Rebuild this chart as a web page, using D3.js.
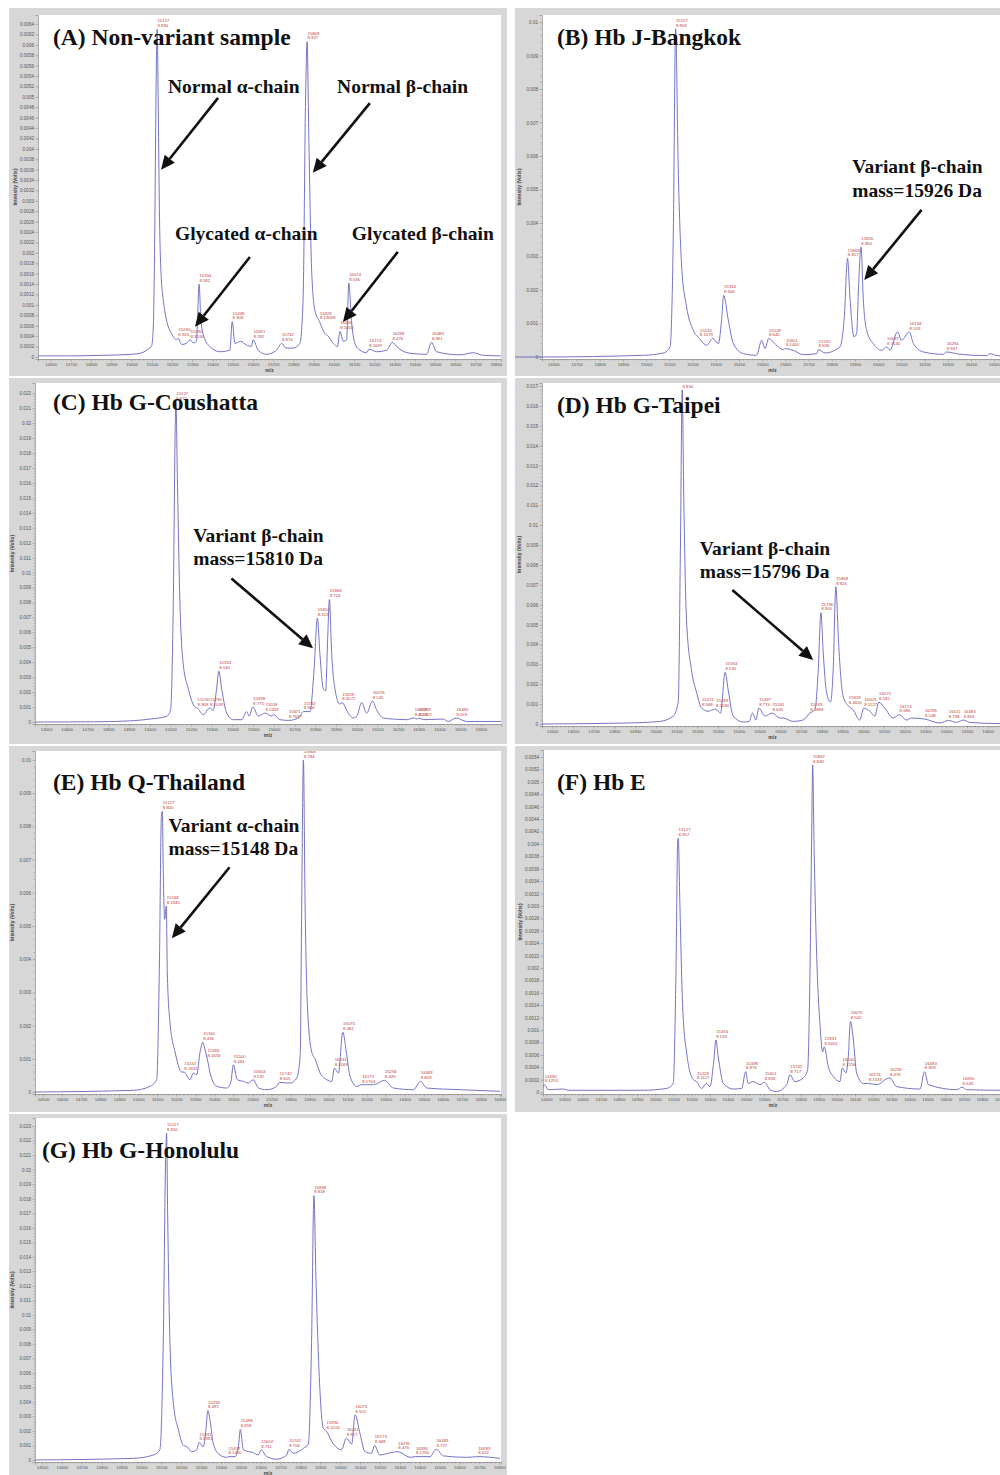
<!DOCTYPE html>
<html>
<head>
<meta charset="utf-8">
<script src="https://cdn.jsdelivr.net/npm/d3@7"></script>
<style>
  html, body { margin: 0; padding: 0; background: #fff; }
  svg { display: block; }
</style>
</head>
<body>
<svg id="fig" width="1000" height="1475"></svg>
<script>
// ---- spectra: [m/z, intensity (Volts)] ----
const traceA = [[14540,0.00002],[14700,0.00002],[14850,0.00003],[15000,0.00005],[15050,0.00008],[15083,0.00015],[15100,0.00022],[15108,0.0006],[15115,0.0024],[15121,0.005],[15127,0.0063],[15132,0.0049],[15138,0.0028],[15146,0.0016],[15157,0.0011],[15173,0.00071],[15198,0.00045],[15222,0.00033],[15230,0.00036],[15248,0.00024],[15272,0.00026],[15290,0.00033],[15305,0.00027],[15321,0.0003],[15328,0.0009],[15334,0.0014],[15343,0.00071],[15358,0.00039],[15387,0.0002],[15437,0.0001],[15486,0.00013],[15498,0.00068],[15511,0.00026],[15525,0.00028],[15539,0.0003],[15568,0.00023],[15593,0.0002],[15601,0.00033],[15626,0.00013],[15667,0.00005],[15717,0.00013],[15742,0.00026],[15763,0.00017],[15799,0.00017],[15832,0.00026],[15848,0.0011],[15860,0.0049],[15868,0.00606],[15876,0.0043],[15890,0.0017],[15906,0.0009],[15929,0.00068],[15956,0.00045],[15972,0.0004],[15997,0.00026],[16018,0.0002],[16030,0.00049],[16047,0.0003],[16063,0.00033],[16074,0.00142],[16087,0.0007],[16104,0.00026],[16129,0.00013],[16162,0.00008],[16174,0.00015],[16211,0.0001],[16261,0.00013],[16288,0.00028],[16318,0.00017],[16376,0.00007],[16458,0.00005],[16483,0.00028],[16507,0.0001],[16623,0.00004],[16689,0.00008],[16738,0.00003],[16825,0.00002]];
const traceB = [[14380,0],[14549,0],[14988,0.00005],[15074,0.00012],[15103,0.0003],[15117,0.0037],[15127,0.0098],[15138,0.0057],[15153,0.0027],[15174,0.0015],[15203,0.0008],[15230,0.00055],[15261,0.00035],[15287,0.00055],[15311,0.0004],[15325,0.0011],[15334,0.00184],[15354,0.0011],[15376,0.0004],[15419,0.0001],[15476,0.00005],[15498,0.0005],[15512,0.00025],[15528,0.00055],[15562,0.00035],[15591,0.00022],[15601,0.00025],[15634,0.0002],[15677,0.00007],[15735,0.0001],[15742,0.00022],[15771,0.00012],[15835,0.0003],[15854,0.0012],[15868,0.00294],[15879,0.0017],[15896,0.0006],[15907,0.0007],[15916,0.0022],[15926,0.00328],[15936,0.0017],[15950,0.0008],[15979,0.0004],[16015,0.0002],[16037,0.0003],[16051,0.0002],[16083,0.00075],[16101,0.0005],[16134,0.00075],[16152,0.0004],[16195,0.00015],[16281,0.00008],[16294,0.00015],[16353,0.00008],[16468,0.00004],[16482,0.0001],[16511,0.00004],[16600,0.00003],[16700,0.00005],[16790,0.00002]];
const traceC = [[14446,0],[14760,0.00002],[14921,0.00009],[15001,0.0002],[15082,0.00038],[15101,0.00082],[15114,0.008],[15124,0.0202],[15127,0.0214],[15133,0.0169],[15146,0.008],[15162,0.0039],[15187,0.0022],[15219,0.001],[15230,0.00094],[15259,0.0005],[15290,0.00094],[15307,0.00078],[15323,0.0022],[15334,0.0034],[15348,0.0022],[15372,0.0006],[15404,0.00016],[15444,0.00016],[15468,0.0007],[15481,0.0004],[15498,0.001],[15525,0.0004],[15558,0.0006],[15589,0.0004],[15600,0.0005],[15629,0.00016],[15671,0.00011],[15718,0.00027],[15743,0.0007],[15774,0.0007],[15794,0.0035],[15810,0.00695],[15822,0.0046],[15839,0.0022],[15850,0.0021],[15860,0.0057],[15868,0.0082],[15879,0.0046],[15895,0.0022],[15919,0.0012],[15929,0.0013],[15959,0.0006],[15983,0.00027],[16000,0.00038],[16024,0.0013],[16048,0.0006],[16076,0.0014],[16096,0.00082],[16128,0.00027],[16177,0.0002],[16241,0.00016],[16279,0.00027],[16290,0.0002],[16298,0.00025],[16330,0.00016],[16418,0.0002],[16442,0.00004],[16480,0.00027],[16531,0.00004],[16697,0.00004]];
const traceD = [[14449,0],[14859,0.00005],[15019,0.00013],[15084,0.0004],[15108,0.0011],[15119,0.0094],[15127,0.0168],[15135,0.0111],[15148,0.0052],[15172,0.0027],[15196,0.0016],[15221,0.0008],[15252,0.00064],[15276,0.00072],[15289,0.00075],[15312,0.00055],[15334,0.0026],[15349,0.0017],[15373,0.0004],[15421,0.0001],[15450,0.00013],[15466,0.00055],[15482,0.0002],[15497,0.0008],[15526,0.0004],[15561,0.00055],[15598,0.0003],[15614,0.0003],[15662,0.00013],[15710,0.0002],[15743,0.00055],[15767,0.00072],[15783,0.0027],[15796,0.0056],[15807,0.0036],[15823,0.0016],[15842,0.0011],[15855,0.0027],[15868,0.0069],[15881,0.0041],[15903,0.0014],[15929,0.0009],[15951,0.00072],[15983,0.0002],[16003,0.0008],[16032,0.00064],[16056,0.0004],[16075,0.0011],[16104,0.0008],[16144,0.0003],[16174,0.00047],[16208,0.0002],[16233,0.0003],[16296,0.00025],[16369,0.00005],[16411,0.00018],[16449,0.00008],[16483,0.0002],[16514,0.00008],[16659,0.00002],[16800,0.00003],[16940,0.00002]];
const traceE = [[14458,0],[14975,0.00005],[15062,0.00017],[15097,0.00037],[15111,0.0036],[15122,0.0083],[15127,0.00845],[15132,0.0066],[15139,0.0052],[15148,0.0056],[15153,0.0036],[15167,0.0021],[15194,0.0012],[15229,0.0006],[15241,0.0006],[15272,0.00037],[15290,0.00057],[15307,0.00052],[15325,0.0012],[15340,0.0015],[15350,0.0013],[15363,0.001],[15378,0.00057],[15413,0.00017],[15465,0.00012],[15486,0.00027],[15500,0.00082],[15521,0.00037],[15553,0.00032],[15579,0.00027],[15604,0.00037],[15632,0.00012],[15675,0.00007],[15728,0.00017],[15742,0.00029],[15798,0.00027],[15833,0.00042],[15851,0.0011],[15859,0.0056],[15868,0.01],[15877,0.0056],[15889,0.0026],[15912,0.0012],[15929,0.001],[15956,0.00057],[15991,0.00037],[16017,0.00032],[16031,0.00072],[16052,0.00057],[16075,0.0018],[16096,0.0011],[16113,0.00047],[16148,0.00017],[16175,0.00022],[16236,0.00022],[16294,0.00035],[16341,0.00012],[16446,0.00007],[16483,0.00032],[16516,0.00012],[16691,0.00007],[16902,0.00002]];
const traceF = [[14374,0.00001],[14390,0.00012],[14411,0.00004],[14494,0.00005],[14521,0.00003],[14934,0.00003],[15063,0.00006],[15099,0.00014],[15114,0.0019],[15124,0.00406],[15127,0.00409],[15136,0.003],[15151,0.00138],[15173,0.00063],[15210,0.0002],[15228,0.00017],[15255,0.00006],[15283,0.00014],[15301,0.00009],[15323,0.00052],[15334,0.00084],[15347,0.00057],[15375,0.00014],[15430,0.00005],[15476,0.00006],[15498,0.00033],[15512,0.00014],[15540,0.00017],[15577,0.00012],[15601,0.00016],[15632,0.00004],[15668,0.00001],[15724,0.00012],[15742,0.00028],[15769,0.00017],[15815,0.00023],[15839,0.00036],[15852,0.0019],[15861,0.00406],[15867,0.00527],[15874,0.00406],[15889,0.0022],[15907,0.0011],[15922,0.00065],[15931,0.00073],[15953,0.00041],[15981,0.00025],[16017,0.00017],[16030,0.00039],[16050,0.00031],[16063,0.00057],[16075,0.00114],[16091,0.00084],[16109,0.00031],[16146,0.00014],[16174,0.00014],[16219,0.00012],[16291,0.00023],[16329,0.00009],[16458,0.00005],[16483,0.00033],[16504,0.00012],[16660,0.00004],[16690,0.00008],[16715,0.00004],[16898,0.00003],[17050,0.00003]];
const traceG = [[14465,0],[14959,0.00011],[15060,0.00034],[15093,0.0007],[15110,0.008],[15122,0.0207],[15127,0.0225],[15132,0.0172],[15144,0.008],[15161,0.0039],[15186,0.0021],[15211,0.001],[15231,0.0009],[15253,0.00057],[15278,0.0007],[15291,0.0012],[15311,0.0009],[15325,0.0021],[15334,0.0034],[15348,0.0025],[15362,0.0011],[15395,0.00034],[15429,0.00018],[15437,0.00023],[15471,0.00023],[15488,0.0009],[15498,0.0021],[15513,0.0007],[15563,0.0005],[15588,0.00034],[15602,0.0007],[15630,0.00023],[15680,0.00005],[15731,0.00034],[15742,0.00073],[15764,0.00046],[15815,0.0008],[15840,0.0011],[15856,0.008],[15868,0.0182],[15878,0.0126],[15895,0.0057],[15915,0.0022],[15930,0.002],[15966,0.0011],[16007,0.0007],[16031,0.0015],[16058,0.0011],[16075,0.0031],[16100,0.0018],[16125,0.00057],[16158,0.00046],[16173,0.001],[16200,0.00034],[16242,0.00046],[16291,0.00057],[16351,0.00018],[16380,0.00023],[16452,0.00023],[16483,0.00073],[16519,0.00028],[16636,0.00018],[16693,0.00023],[16804,0.00011]];

// ---- peak labels: [m/z, intensity, second line] ----
const peaksA = [[15127,0.0063,"8.890"],[15230,0.00036,"8.920"],[15290,0.00033,"8.3136"],[15334,0.0014,"8.582"],[15498,0.00068,"8.908"],[15601,0.00033,"8.782"],[15742,0.00026,"8.874"],[15868,0.00606,"8.927"],[15929,0.00068,"8.13668"],[16030,0.00049,"8.5450"],[16074,0.00142,"8.536"],[16174,0.00015,"8.1697"],[16288,0.00028,"8.476"],[16483,0.00028,"8.961"]];
const peaksB = [[15127,0.0098,"8.863"],[15230,0.00055,"8.1079"],[15334,0.00184,"8.306"],[15528,0.00055,"8.640"],[15601,0.00025,"8.1440"],[15742,0.00022,"8.636"],[15868,0.00294,"8.817"],[15926,0.00328,"8.865"],[16037,0.0003,"8.7140"],[16134,0.00075,"8.533"],[16294,0.00015,"8.947"]];
const peaksC = [[15127,0.0214,"8.872"],[15230,0.00094,"8.968"],[15290,0.00094,"8.1049"],[15334,0.0034,"8.530"],[15498,0.001,"8.775"],[15558,0.0006,"8.2433"],[15671,0.00011,"8.7697"],[15743,0.0007,"8.906"],[15810,0.00695,"8.321"],[15868,0.0082,"8.724"],[15929,0.0013,"8.4572"],[16076,0.0014,"8.545"],[16279,0.00027,"8.4271"],[16298,0.00025,"8.1407"],[16480,0.00027,"8.059"]];
const peaksD = [[15127,0.0168,"8.834"],[15221,0.0008,"8.948"],[15289,0.00075,"8.2090"],[15334,0.0026,"8.530"],[15497,0.0008,"8.774"],[15561,0.00055,"8.632"],[15743,0.00055,"8.1889"],[15796,0.0056,"8.900"],[15868,0.0069,"8.824"],[15929,0.0009,"8.4600"],[16003,0.0008,"8.1127"],[16075,0.0011,"8.545"],[16174,0.00047,"8.686"],[16296,0.00025,"8.548"],[16411,0.00018,"8.798"],[16483,0.0002,"8.863"]];
const peaksE = [[15127,0.00845,"8.800"],[15148,0.0056,"8.1945"],[15241,0.0006,"8.1941"],[15340,0.0015,"8.436"],[15363,0.001,"8.1656"],[15500,0.00082,"8.184"],[15604,0.00037,"8.537"],[15742,0.00029,"8.605"],[15868,0.01,"8.784"],[16031,0.00072,"8.1169"],[16075,0.0018,"8.482"],[16175,0.00022,"8.1764"],[16294,0.00035,"8.449"],[16483,0.00032,"8.809"]];
const peaksF = [[14390,0.00012,"8.1253"],[15127,0.00409,"8.857"],[15228,0.00017,"8.1117"],[15334,0.00084,"8.533"],[15498,0.00033,"8.874"],[15601,0.00016,"8.858"],[15742,0.00028,"8.717"],[15867,0.00527,"8.849"],[15931,0.00073,"8.6401"],[16030,0.00039,"8.1256"],[16075,0.00114,"8.502"],[16174,0.00014,"8.1533"],[16291,0.00023,"8.476"],[16483,0.00033,"8.859"],[16690,0.00008,"8.649"]];
const peaksG = [[15127,0.0225,"8.850"],[15291,0.0012,"8.2991"],[15334,0.0034,"8.491"],[15437,0.00023,"8.1350"],[15498,0.0021,"8.859"],[15602,0.0007,"8.711"],[15742,0.00073,"8.706"],[15868,0.0182,"8.818"],[15930,0.002,"8.5224"],[16031,0.0015,"8.917"],[16075,0.0031,"8.502"],[16173,0.001,"8.688"],[16291,0.00057,"8.476"],[16380,0.00023,"8.1290"],[16483,0.00073,"8.727"],[16693,0.00023,"8.632"]];

// ---- annotations, anchored in data units ----
const notesA = [
  { lines: ["Normal α-chain"], at: [15180, 0.00507], from: [15428, 0.00498], to: [15146, 0.0036] },
  { lines: ["Normal β-chain"], at: [16016, 0.00507], from: [16178, 0.00488], to: [15896, 0.00354] },
  { lines: ["Glycated α-chain"], at: [15215, 0.00225], from: [15585, 0.00192], to: [15314, 0.00058] },
  { lines: ["Glycated β-chain"], at: [16089, 0.00225], from: [16316, 0.00202], to: [16045, 0.00067] }
];
const notesB = [{ lines: ["Variant β-chain", "mass=15926 Da"], at: [15888, 0.00548], from: [16187, 0.00439], to: [15940, 0.0023] }];
const notesC = [{ lines: ["Variant β-chain", "mass=15810 Da"], at: [15210, 0.01206], from: [15395, 0.00961], to: [15789, 0.00493] }];
const notesD = [{ lines: ["Variant β-chain", "mass=15796 Da"], at: [15212, 0.0085], from: [15369, 0.00674], to: [15759, 0.00322] }];
const notesE = [{ lines: ["Variant α-chain", "mass=15148 Da"], at: [15159, 0.00784], from: [15480, 0.00677], to: [15177, 0.00463] }];

const titles = ["(A) Non-variant sample", "(B) Hb J-Bangkok", "(C) Hb G-Coushatta", "(D) Hb G-Taipei",
                "(E) Hb Q-Thailand", "(F) Hb E", "(G) Hb G-Honolulu"];
// y tick labels: highest labelled value and step
const yTickTop  = [0.0064, 0.01, 0.022, 0.017, 0.01, 0.0054, 0.023];
const yTickStep = [0.0002, 0.001, 0.001, 0.001, 0.001, 0.0002, 0.001];
const xTickStep = 100;

// ---- layout ----
const panels = [
  { frame: [9, 8, 498, 368],    plot: [38, 15, 501, 359],     x: [14538, 16826], y: [-0.00004, 0.006573], t: [15, 30], trace: traceA, peaks: peaksA, notes: notesA, lead: false },
  { frame: [515, 8, 500, 368],  plot: [542, 15, 1003, 359],   x: [14551, 16538], y: [-0.00006, 0.01021],  t: [15, 30], trace: traceB, peaks: peaksB, notes: notesB, lead: true },
  { frame: [9, 378, 498, 366],  plot: [35, 383, 501, 724],    x: [14446, 16697], y: [-0.00013, 0.02268],  t: [18, 27], trace: traceC, peaks: peaksC, notes: notesC, lead: false },
  { frame: [515, 378, 500, 366],plot: [542, 383, 1003, 726],  x: [14451, 16674], y: [-0.0001, 0.01715],   t: [15, 30], trace: traceD, peaks: peaksD, notes: notesD, lead: false },
  { frame: [9, 746, 498, 366],  plot: [35, 751, 501, 1094],   x: [14458, 16906], y: [-0.00006, 0.01027],  t: [18, 39], trace: traceE, peaks: peaksE, notes: notesE, lead: false },
  { frame: [515, 746, 500, 366],plot: [543, 750, 1003, 1094], x: [14382, 16915], y: [-0.00003, 0.005513], t: [14, 40], trace: traceF, peaks: peaksF, notes: [], lead: false },
  { frame: [9, 1114, 498, 370], plot: [35, 1118, 501, 1462],  x: [14465, 16809], y: [-0.00014, 0.02355],  t: [7, 40],  trace: traceG, peaks: peaksG, notes: [], lead: false }
];

const svg = d3.select("#fig");
const fmt = v => String(+v.toFixed(6));
const defs = svg.append("defs");

function arrow(g, x1, y1, x2, y2) {
  const ang = Math.atan2(y2 - y1, x2 - x1), L = 14, W = 6.5;
  const bx = x2 - L * Math.cos(ang), by = y2 - L * Math.sin(ang);
  const nx = -Math.sin(ang), ny = Math.cos(ang);
  g.append("line")
    .attr("x1", x1).attr("y1", y1).attr("x2", bx).attr("y2", by)
    .attr("stroke", "#111").attr("stroke-width", 2.6);
  g.append("path")
    .attr("d", `M${x2},${y2}L${bx + nx * W},${by + ny * W}L${bx - nx * W},${by - ny * W}Z`)
    .attr("fill", "#111");
}

panels.forEach((p, i) => {
  const g = svg.append("g");
  const [fx, fy, fw, fh] = p.frame;
  const [l, t, r, b] = p.plot;

  g.append("rect").attr("x", fx).attr("y", fy).attr("width", fw).attr("height", fh).attr("fill", "#d7d7d7");
  g.append("rect").attr("x", l).attr("y", t).attr("width", r - l).attr("height", b - t).attr("fill", "#fff");

  const x = d3.scaleLinear().domain(p.x).range([l, r]);
  const y = d3.scaleLinear().domain(p.y).range([b, t]);

  // clip to the plot; panel B's trace starts out in the grey margin
  const cx = p.lead ? fx : l;
  defs.append("clipPath").attr("id", "clip" + i)
    .append("rect").attr("x", cx).attr("y", t).attr("width", r - cx).attr("height", b - t);
  defs.append("clipPath").attr("id", "lab" + i)
    .append("rect").attr("x", l).attr("y", t).attr("width", r - l).attr("height", b - t);

  // y axis
  const nY = Math.round(yTickTop[i] / yTickStep[i]);
  const yTicks = d3.range(nY + 1).map(k => +(k * yTickStep[i]).toFixed(6));
  const ya = g.append("g").attr("transform", `translate(${l},0)`)
    .call(d3.axisLeft(y).tickValues(yTicks).tickFormat(fmt).tickSize(2.5).tickPadding(1.5));
  if (yTickStep[i] >= 0.001) {
    const minor = d3.range(nY * 5 + 1).map(k => k * yTickStep[i] / 5).filter((v, k) => k % 5);
    g.selectAll(null).data(minor).join("line")
      .attr("x1", l - 1.5).attr("x2", l).attr("y1", d => y(d)).attr("y2", d => y(d))
      .attr("stroke", "#888").attr("stroke-width", 0.5);
  }

  // x axis
  const xTicks = d3.range(Math.ceil(p.x[0] / xTickStep) * xTickStep, p.x[1] + 1, xTickStep);
  const xa = g.append("g").attr("transform", `translate(0,${b})`)
    .call(d3.axisBottom(x).tickValues(xTicks).tickFormat(d3.format("d")).tickSize(2.5).tickPadding(1.5));
  const xMinor = d3.range(Math.ceil(p.x[0] / 20) * 20, p.x[1], 20).filter(v => v % 100);
  g.selectAll(null).data(xMinor).join("line")
    .attr("x1", d => x(d)).attr("x2", d => x(d)).attr("y1", b).attr("y2", b + 1.5)
    .attr("stroke", "#888").attr("stroke-width", 0.5);

  [ya, xa].forEach(a => {
    a.select(".domain").attr("stroke", "#8a8a8a").attr("stroke-width", 0.7);
    a.selectAll(".tick line").attr("stroke", "#8a8a8a").attr("stroke-width", 0.6);
    a.selectAll(".tick text").attr("fill", "#555").attr("font-family", "Liberation Sans, Arial, sans-serif");
  });
  ya.selectAll(".tick text").attr("font-size", 4.6);
  xa.selectAll(".tick text").attr("font-size", 4.2);

  g.append("text")
    .attr("transform", `translate(${l - 21},${(t + b) / 2}) rotate(-90)`)
    .attr("text-anchor", "middle").attr("font-family", "Liberation Sans, Arial, sans-serif")
    .attr("font-size", 5).attr("font-weight", "bold").attr("fill", "#444")
    .text("Intensity (Volts)");
  g.append("text")
    .attr("x", (l + r) / 2).attr("y", b + 13)
    .attr("text-anchor", "middle").attr("font-family", "Liberation Sans, Arial, sans-serif")
    .attr("font-size", 5).attr("font-weight", "bold").attr("fill", "#444")
    .text("m/z");

  // spectrum
  g.append("path")
    .datum(p.trace)
    .attr("clip-path", `url(#clip${i})`)
    .attr("d", d3.line().x(d => x(d[0])).y(d => y(d[1])).curve(d3.curveMonotoneX))
    .attr("fill", "none")
    .attr("stroke", "#6464c2")
    .attr("stroke-width", 0.9)
    .attr("stroke-linejoin", "round");

  // peak labels
  const pl = g.append("g").attr("clip-path", `url(#lab${i})`)
    .attr("font-family", "Liberation Sans, Arial, sans-serif").attr("font-size", 4.3).attr("fill", "#c53a3a");
  p.peaks.forEach(([m, v, s]) => {
    pl.append("text").attr("x", x(m) + 0.3).attr("y", y(v) - 7).text(m);
    pl.append("text").attr("x", x(m) + 0.3).attr("y", y(v) - 2.2).text(s);
  });

  // title
  g.append("text")
    .attr("x", l + p.t[0]).attr("y", t + p.t[1])
    .attr("font-family", "Liberation Serif, Times New Roman, serif")
    .attr("font-weight", "bold").attr("font-size", 23.5).attr("fill", "#111")
    .text(titles[i]);

  // annotations
  p.notes.forEach(n => {
    const tx = g.append("text")
      .attr("font-family", "Liberation Serif, Times New Roman, serif")
      .attr("font-weight", "bold").attr("font-size", 19.5).attr("fill", "#111");
    n.lines.forEach((s, k) => {
      tx.append("tspan").attr("x", x(n.at[0])).attr("y", y(n.at[1]) + k * 23.4).text(s);
    });
    arrow(g, x(n.from[0]), y(n.from[1]), x(n.to[0]), y(n.to[1]));
  });
});
</script>
</body>
</html>
